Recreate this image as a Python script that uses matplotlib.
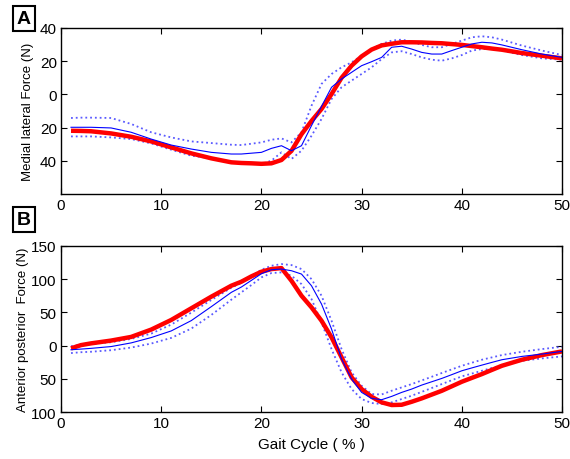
import matplotlib
matplotlib.use('Agg')
import matplotlib.pyplot as plt
import numpy as np

plt.rcParams['font.family'] = ['Liberation Sans', 'DejaVu Sans']

# gait cycle samples (%)
gait = [1, 2, 3, 5, 7, 9, 11, 13, 15, 17, 18, 19, 20, 21, 22, 23, 24, 25, 26, 27,
        28, 29, 30, 31, 32, 33, 34, 35, 36, 37, 38, 39, 40, 41, 42, 43, 44, 46, 48, 50]

# panel A - medial lateral force (N)
ml_model = [-21.9, -22.0, -22.2, -23.5, -25.5, -28.3, -31.9, -35.5, -38.5, -40.9, -41.3, -41.5, -41.8,
            -41.5, -39.5, -34.0, -24.0, -16.0, -8.8, 0.2, 10.0, 17.3, 22.9, 27.0, 29.5, 30.5,
            31.4, 31.4, 31.3, 31.0, 30.8, 30.3, 29.8, 29.1, 28.4, 27.6, 26.9, 24.9, 23.3, 21.7]
ml_mean = [-19.8, -19.8, -19.8, -20.2, -22.8, -26.9, -30.5, -32.9, -34.9, -35.9, -35.9, -35.4, -34.9,
           -32.5, -30.9, -33.9, -30.9, -18.8, -7.2, 4.3, 9.3, 13.3, 17.3, 19.7, 22.3, 28.4,
           29.0, 27.3, 25.3, 24.3, 24.3, 26.4, 28.4, 30.4, 31.4, 31.0, 29.8, 26.9, 24.3, 22.3]
ml_upper = [-14.2, -14.0, -14.0, -14.2, -17.8, -22.8, -25.9, -28.3, -29.3, -30.3, -30.5, -29.7, -28.9,
            -27.3, -26.5, -28.9, -22.8, -6.8, 6.3, 12.3, 16.3, 19.3, 23.3, 27.3, 30.4, 32.4,
            33.0, 31.8, 29.8, 28.4, 28.4, 30.4, 32.4, 34.4, 35.0, 34.4, 33.0, 29.4, 26.4, 23.7]
ml_lower = [-25.3, -25.3, -25.3, -25.9, -26.9, -29.5, -33.3, -36.9, -38.5, -40.5, -41.9, -41.9, -41.9,
            -39.9, -34.9, -38.9, -33.9, -24.9, -14.8, -2.8, 4.3, 8.3, 12.3, 16.3, 21.3, 25.3,
            26.0, 24.3, 22.3, 20.9, 20.3, 21.7, 23.7, 26.4, 27.3, 27.3, 26.4, 23.7, 21.7, 20.9]

# panel B - anterior posterior force (N)
ap_model = [-4.2, 0.7, 3.3, 7.5, 13.0, 24.0, 38.5, 56.0, 73.5, 90.0, 96.0, 104.0, 111.0,
            115.0, 116.5, 97.4, 74.9, 57.4, 37.3, 12.3, -17.7, -47.8, -65.4, -77.0, -85.4, -89.4,
            -89.0, -84.5, -79.4, -73.7, -68.0, -61.2, -54.4, -48.6, -42.9, -36.6, -30.4, -21.3, -14.3, -8.8]
ap_mean = [-6.3, -5.3, -4.2, -1.5, 4.0, 12.0, 22.0, 37.5, 58.5, 80.0, 88.0, 98.0, 108.0,
           114.0, 115.0, 112.5, 107.5, 89.9, 62.4, 24.8, -20.3, -50.4, -70.4, -79.4, -81.4, -76.4,
           -70.4, -65.4, -59.4, -54.4, -49.4, -43.7, -37.9, -33.6, -29.4, -25.3, -21.3, -16.3, -12.8, -8.8]
ap_upper = [-1.0, 1.5, 2.5, 5.0, 10.0, 18.0, 31.5, 49.5, 68.5, 87.0, 94.0, 104.0, 114.0,
            120.0, 122.5, 121.0, 115.0, 99.9, 74.9, 37.3, -5.3, -40.3, -60.4, -72.9, -73.5, -67.9,
            -62.9, -57.9, -52.4, -46.9, -41.3, -35.8, -30.4, -25.8, -21.3, -17.8, -14.3, -9.3, -5.3, -1.8]
ap_lower = [-11.3, -10.0, -9.3, -7.0, -3.0, 3.0, 11.5, 25.5, 46.0, 69.0, 80.0, 91.0, 102.5,
            109.0, 110.0, 105.0, 92.4, 69.9, 34.8, -5.3, -40.3, -65.4, -80.4, -86.4, -87.9, -85.4,
            -80.4, -75.4, -69.6, -63.8, -57.9, -52.1, -46.3, -42.1, -37.9, -33.7, -29.4, -22.9, -19.3, -16.3]

# tick labels as printed (minus signs missing in the original)
x_ticks = [0, 10, 20, 30, 40, 50]
ml_ticks = [40, 20, 0, -20, -40]
ml_ticklabels = ['40', '20', '0', '20', '40']
ap_ticks = [150, 100, 50, 0, -50, -100]
ap_ticklabels = ['150', '100', '50', '0', '50', '100']

fig = plt.figure(figsize=(5.7, 4.6), dpi=100)
ax1 = fig.add_axes([0.107, 0.576, 0.879, 0.361])
ax2 = fig.add_axes([0.107, 0.102, 0.879, 0.3615])

def draw_panel(ax, model, mean, upper, lower):
    ax.plot(gait, upper, ':', color='#5a5aff', lw=1.3)
    ax.plot(gait, lower, ':', color='#5a5aff', lw=1.3)
    ax.plot(gait, model, '-', color='#ff0000', lw=3.2, solid_capstyle='butt')
    ax.plot(gait, mean, '-', color='#0000ff', lw=0.8)
    ax.set_xlim(0, 50)
    ax.set_xticks(x_ticks)
    ax.tick_params(direction='in', top=True, right=True, length=4, width=0.8,
                   labelsize=11, pad=3)
    for s in ax.spines.values():
        s.set_linewidth(1.0)

# panel A
draw_panel(ax1, ml_model, ml_mean, ml_upper, ml_lower)
ax1.set_ylim(-60, 40)
ax1.set_yticks(ml_ticks)
ax1.set_yticklabels(ml_ticklabels)
ax1.set_ylabel('Medial lateral Force (N)', fontsize=9.5, labelpad=4)

# panel B
draw_panel(ax2, ap_model, ap_mean, ap_upper, ap_lower)
ax2.set_ylim(-100, 150)
ax2.set_yticks(ap_ticks)
ax2.set_yticklabels(ap_ticklabels)
ax2.set_ylabel('Anterior posterior  Force (N)', fontsize=9.5, labelpad=2)
ax2.set_xlabel('Gait Cycle ( % )', fontsize=11, labelpad=5)

box = dict(boxstyle='square,pad=0.2', fc='white', ec='black', lw=1.5)
fig.text(0.042, 0.957, 'A', fontsize=14, fontweight='bold', ha='center', va='center', bbox=box)
fig.text(0.042, 0.520, 'B', fontsize=14, fontweight='bold', ha='center', va='center', bbox=box)

fig.savefig('out.png', dpi=100)
